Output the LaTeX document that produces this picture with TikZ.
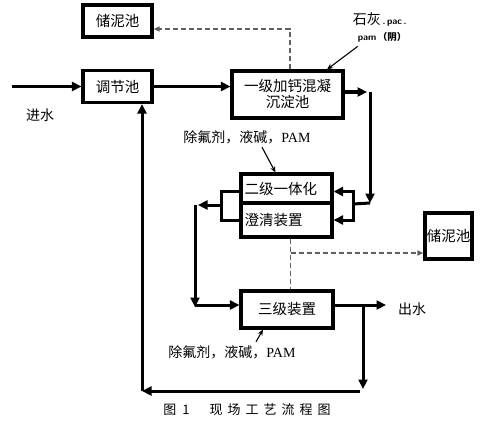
\documentclass[tikz,border=0pt]{standalone}
\usepackage{fontspec}
\setmainfont{Liberation Serif}
\newfontfamily\cjk{Noto Sans CJK SC}
\usetikzlibrary{arrows.meta,positioning,calc}

\begin{document}
\begin{tikzpicture}[
  x=1pt, y=-1pt,
  box/.style={rectangle, draw=black, line width=3.1pt, inner sep=0pt,
              align=center, font=\cjk\fontsize{14.5}{16}\selectfont},
  cell/.style={box, align=left, text width=84pt},
  arr/.style={-{Triangle[length=9.5pt,width=9pt]}, line width=3pt, line join=miter},
  line/.style={line width=3pt, line join=miter},
  thinarr/.style={-{Stealth[length=6pt,width=5pt]}, line width=1.1pt},
  dashline/.style={gray!75!black, line width=1.5pt, dash pattern=on 5pt off 3pt},
  dasharr/.style={dashline, -{Triangle[length=6pt,width=5pt]}},
  note/.style={font=\fontsize{14}{16}\selectfont, align=center}
]
\useasboundingbox (0,0) rectangle (494,425);

%% Process boxes
\node[box, minimum width=69pt, minimum height=32pt] (sludgeA) at (117.5,21) {储泥池};
\node[box, minimum width=69pt, minimum height=32pt] (tank) at (117.5,86.5) {调节池};
\node[box, minimum width=111pt, minimum height=47pt] (coag) at (287.5,94.5)
  {一级加钙混凝\\沉淀池};
\node[cell, minimum width=91pt, minimum height=29pt] (integA) at (286.5,188.5) {二级一体化};
\node[cell, minimum width=91pt, minimum height=34pt] (integB) at (286.5,220) {澄清装置};
\node[box, minimum width=92pt, minimum height=37pt] (third) at (287,309.5) {三级装置};
\node[box, minimum width=47pt, minimum height=46pt] (sludgeB) at (448.5,236) {储泥池};

%% Labels
\node[note, font=\cjk\fontsize{14}{16}\selectfont] (inlet) at (40,115) {进水};
\node[note, font=\cjk\fontsize{14}{16}\selectfont] (outlet) at (412,309) {出水};
\node[note, align=right, anchor=east] (lime) at (410,28)
  {{\cjk\fontsize{14}{15}\selectfont 石灰}{\sffamily\bfseries\fontsize{9.5}{11}\selectfont\,.\,pac\,.}\\
   {\sffamily\bfseries\fontsize{9.5}{11}\selectfont pam\,{\cjk（阴）}}};
\node[note] (dosetop) at (247,137) {{\cjk 除氟剂，液碱，}PAM};
\node[note] (dosebot) at (232,352) {{\cjk 除氟剂，液碱，}PAM};
\node[note, font=\cjk\fontsize{13}{15}\selectfont] (caption) at (247,410)
  {图\hspace{6pt}1\hspace{20pt}现\hspace{5pt}场\hspace{5pt}工\hspace{5pt}艺\hspace{5pt}流\hspace{5pt}程\hspace{5pt}图};

%% Junction points
\coordinate (in0) at ([xshift=-69pt]tank.west);
\coordinate (rtop) at (367,92);
\coordinate (rbot) at (370,203);
\coordinate (rsplit) at (353,204);
\coordinate (lsplit) at (221,205);
\coordinate (ltop) at (195,205);
\coordinate (lbot) at (195,305);
\coordinate (dsplit) at (290.5,253);
\coordinate (outtip) at (386,305);
\coordinate (osplit) at (363,305);
\coordinate (obot) at (363,389);
\coordinate (bright) at (360,391);
\coordinate (bleft) at (142,391);

%% Main flow
\draw[arr] (in0) -- (tank.west);
\draw[arr] (tank.east) -- (tank.east -| coag.west);
\draw[arr] (coag.east |- rtop) -- (rtop);
\draw[arr] (rtop -| rbot) -- (rbot);
\draw[line] (rbot) -- (rsplit);
\draw[arr] (rsplit) |- ([yshift=-3pt]integA.east);
\draw[arr] (rsplit) |- (integB.east);
\draw[line] ([yshift=-3pt]integA.west) -| (lsplit) |- (integB.west);
\draw[arr] (lsplit) -- ([xshift=3pt]ltop);
\draw[arr] (ltop) -- ([yshift=-2pt]lbot);
\draw[arr] (lbot) -- (lbot -| third.west);
\draw[arr] (third.east |- outtip) -- (outtip);
\draw[arr] (osplit) -- (obot);
\draw[arr] (bright) -- (bleft);
\draw[arr] (bleft) -- (bleft |- tank.south);

%% Sludge lines
\draw[dasharr] ([xshift=2.5pt]coag.north) |- ([yshift=-8pt]sludgeA.east);
\draw[dashline] ([xshift=4pt]integB.south) -- (dsplit) -- ([xshift=3.5pt]third.north);
\draw[dasharr] (dsplit) -- (dsplit -| sludgeB.west);

%% Dosing arrows
\draw[thinarr] ([xshift=15pt]dosetop.south) -- ([xshift=-11pt]integA.north);
\draw[thinarr] ([xshift=24pt]dosebot.north) -- ([xshift=-24pt]third.south);
\draw[thinarr] ([xshift=-22pt]lime.south) -- ([xshift=39.5pt]coag.north);

\end{tikzpicture}
\end{document}
